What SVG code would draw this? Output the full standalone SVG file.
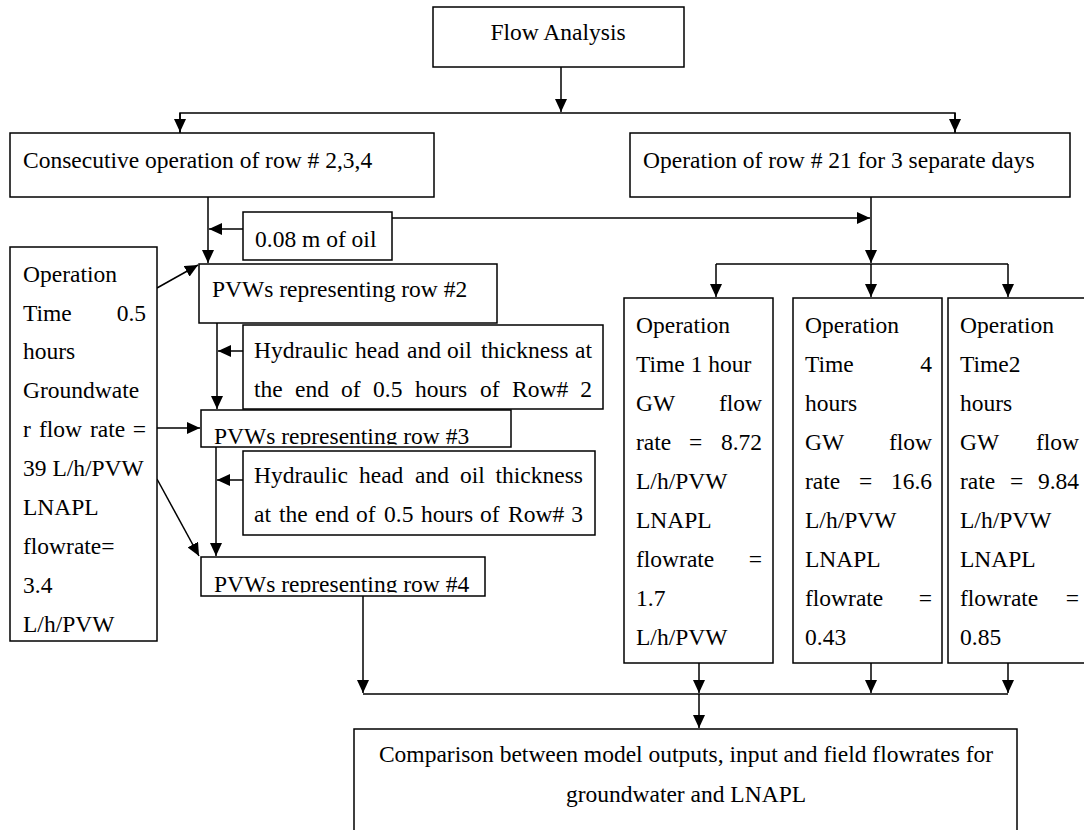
<svg xmlns="http://www.w3.org/2000/svg" width="1084" height="830" viewBox="0 0 1084 830">
<style>
.box{fill:#fff;stroke:#000;stroke-width:1.5}
.t{font-family:"Liberation Serif","Times New Roman",serif;font-size:23.5px;fill:#000}
.c{fill:none;stroke:#000;stroke-width:1.5}
.m{text-anchor:middle}
.e{text-anchor:end}
</style>
<defs>
<marker id="ah" markerUnits="userSpaceOnUse" markerWidth="14" markerHeight="12" refX="13" refY="6" orient="auto">
<path d="M0,0 L13,6 L0,12 z" fill="#000"/>
</marker>
<clipPath id="clip3"><rect x="201" y="410" width="310" height="34.5"/></clipPath>
<clipPath id="clip4"><rect x="201" y="557" width="284" height="35.5"/></clipPath>
</defs>
<rect width="1084" height="830" fill="#fff"/>

<g id="connectors">
<line class="c" x1="561" y1="67" x2="561" y2="112" marker-end="url(#ah)"/>
<polyline class="c" points="180,133 180,113 955,113 955,133"/>
<line class="c" x1="180" y1="113" x2="180" y2="132" marker-end="url(#ah)"/>
<line class="c" x1="955" y1="113" x2="955" y2="132" marker-end="url(#ah)"/>
<line class="c" x1="208" y1="197" x2="208" y2="263" marker-end="url(#ah)"/>
<line class="c" x1="243" y1="229" x2="209" y2="229" marker-end="url(#ah)"/>
<line class="c" x1="392" y1="218" x2="870" y2="218" marker-end="url(#ah)"/>
<line class="c" x1="871" y1="197" x2="871" y2="263" marker-end="url(#ah)"/>
<line class="c" x1="716" y1="264" x2="1008" y2="264"/>
<line class="c" x1="716" y1="264" x2="716" y2="297" marker-end="url(#ah)"/>
<line class="c" x1="871" y1="264" x2="871" y2="297" marker-end="url(#ah)"/>
<line class="c" x1="1008" y1="264" x2="1008" y2="297" marker-end="url(#ah)"/>
<line class="c" x1="157" y1="288" x2="198" y2="265" marker-end="url(#ah)"/>
<line class="c" x1="157" y1="428" x2="200" y2="428" marker-end="url(#ah)"/>
<line class="c" x1="157" y1="479" x2="199" y2="556" marker-end="url(#ah)"/>
<line class="c" x1="217" y1="323" x2="217" y2="409" marker-end="url(#ah)"/>
<line class="c" x1="243" y1="351" x2="218" y2="351" marker-end="url(#ah)"/>
<line class="c" x1="216" y1="447" x2="216" y2="556" marker-end="url(#ah)"/>
<line class="c" x1="243" y1="480" x2="217" y2="480" marker-end="url(#ah)"/>
<line class="c" x1="363" y1="596" x2="363" y2="693" marker-end="url(#ah)"/>
<line class="c" x1="699" y1="643" x2="699" y2="693" marker-end="url(#ah)"/>
<line class="c" x1="871" y1="643" x2="871" y2="693" marker-end="url(#ah)"/>
<line class="c" x1="1008" y1="643" x2="1008" y2="693" marker-end="url(#ah)"/>
<line class="c" x1="363" y1="694" x2="1008" y2="694"/>
<line class="c" x1="699" y1="694" x2="699" y2="728" marker-end="url(#ah)"/>
</g>

<g id="flow-analysis">
<rect class="box" x="433" y="7" width="251" height="60"/>
<text class="t m" x="558" y="40">Flow Analysis</text>
</g>

<g id="consecutive">
<rect class="box" x="10" y="133" width="424" height="64"/>
<text class="t" x="23" y="168">Consecutive operation of row # 2,3,4</text>
</g>

<g id="row21">
<rect class="box" x="630" y="133" width="440" height="64"/>
<text class="t" x="643" y="168">Operation of row # 21 for 3 separate days</text>
</g>

<g id="oil">
<rect class="box" x="243" y="212" width="149" height="48"/>
<text class="t" x="255" y="247">0.08 m of oil</text>
</g>

<g id="left-op">
<rect class="box" x="10" y="247" width="147" height="394"/>
<text class="t" x="23" y="282">Operation</text>
<text class="t" x="23" y="321">Time</text><text class="t e" x="146" y="321">0.5</text>
<text class="t" x="23" y="359">hours</text>
<text class="t" x="23" y="398">Groundwate</text>
<text class="t" y="437"><tspan x="23">r</tspan><tspan x="39">flow</tspan><tspan x="90">rate</tspan></text><text class="t e" x="146" y="437">=</text>
<text class="t" x="23" y="476">39 L/h/PVW</text>
<text class="t" x="23" y="515">LNAPL</text>
<text class="t" x="23" y="554">flowrate=</text>
<text class="t" x="23" y="593">3.4</text>
<text class="t" x="23" y="632">L/h/PVW</text>
</g>

<g id="pvw2">
<rect class="box" x="199" y="264" width="298" height="59"/>
<text class="t" x="212" y="297">PVWs representing row #2</text>
</g>

<g id="hyd1">
<rect class="box" x="243" y="325" width="360" height="84"/>
<text class="t" y="358"><tspan x="254">Hydraulic</tspan><tspan x="355">head</tspan><tspan x="407">and</tspan><tspan x="447">oil</tspan><tspan x="481">thickness</tspan></text>
<text class="t e" x="592" y="358">at</text>
<text class="t" y="397"><tspan x="254">the</tspan><tspan x="295">end</tspan><tspan x="341">of</tspan><tspan x="373">0.5</tspan><tspan x="415">hours</tspan><tspan x="480">of</tspan><tspan x="512">Row#</tspan></text>
<text class="t e" x="592" y="397">2</text>
</g>

<g id="pvw3">
<rect class="box" x="201" y="410" width="310" height="37"/>
<text class="t" x="214" y="444" clip-path="url(#clip3)">PVWs representing row #3</text>
</g>

<g id="hyd2">
<rect class="box" x="243" y="451" width="352" height="84"/>
<text class="t" y="483"><tspan x="254">Hydraulic</tspan><tspan x="359">head</tspan><tspan x="415">and</tspan><tspan x="460">oil</tspan></text>
<text class="t e" x="583" y="483">thickness</text>
<text class="t" y="522"><tspan x="254">at</tspan><tspan x="279">the</tspan><tspan x="315">end</tspan><tspan x="356">of</tspan><tspan x="384">0.5</tspan><tspan x="421">hours</tspan><tspan x="480">of</tspan><tspan x="508">Row#</tspan></text>
<text class="t e" x="583" y="522">3</text>
</g>

<g id="pvw4">
<rect class="box" x="201" y="557" width="284" height="39"/>
<text class="t" x="214" y="592" clip-path="url(#clip4)">PVWs representing row #4</text>
</g>

<g id="op1h">
<rect class="box" x="624" y="298" width="149" height="365"/>
<text class="t" x="636" y="333">Operation</text>
<text class="t" x="636" y="372">Time 1 hour</text>
<text class="t" x="636" y="411">GW</text><text class="t e" x="762" y="411">flow</text>
<text class="t" y="450"><tspan x="636">rate</tspan><tspan x="689">=</tspan></text><text class="t e" x="762" y="450">8.72</text>
<text class="t" x="636" y="489">L/h/PVW</text>
<text class="t" x="636" y="528">LNAPL</text>
<text class="t" x="636" y="567">flowrate</text><text class="t e" x="762" y="567">=</text>
<text class="t" x="636" y="606">1.7</text>
<text class="t" x="636" y="645">L/h/PVW</text>
</g>

<g id="op4h">
<rect class="box" x="793" y="298" width="149" height="365"/>
<text class="t" x="805" y="333">Operation</text>
<text class="t" x="805" y="372">Time</text><text class="t e" x="932" y="372">4</text>
<text class="t" x="805" y="411">hours</text>
<text class="t" x="805" y="450">GW</text><text class="t e" x="932" y="450">flow</text>
<text class="t" y="489"><tspan x="805">rate</tspan><tspan x="859">=</tspan></text><text class="t e" x="932" y="489">16.6</text>
<text class="t" x="805" y="528">L/h/PVW</text>
<text class="t" x="805" y="567">LNAPL</text>
<text class="t" x="805" y="606">flowrate</text><text class="t e" x="932" y="606">=</text>
<text class="t" x="805" y="645">0.43</text>
</g>

<g id="op2h">
<rect class="box" x="948" y="298" width="142" height="365"/>
<text class="t" x="960" y="333">Operation</text>
<text class="t" x="960" y="372">Time2</text>
<text class="t" x="960" y="411">hours</text>
<text class="t" x="960" y="450">GW</text><text class="t e" x="1079" y="450">flow</text>
<text class="t" y="489"><tspan x="960">rate</tspan><tspan x="1010">=</tspan></text><text class="t e" x="1079" y="489">9.84</text>
<text class="t" x="960" y="528">L/h/PVW</text>
<text class="t" x="960" y="567">LNAPL</text>
<text class="t" x="960" y="606">flowrate</text><text class="t e" x="1079" y="606">=</text>
<text class="t" x="960" y="645">0.85</text>
</g>

<g id="comparison">
<rect class="box" x="354" y="729" width="663" height="110"/>
<text class="t m" x="686" y="762">Comparison between model outputs, input and field flowrates for</text>
<text class="t m" x="686" y="802">groundwater and LNAPL</text>
</g>
</svg>
